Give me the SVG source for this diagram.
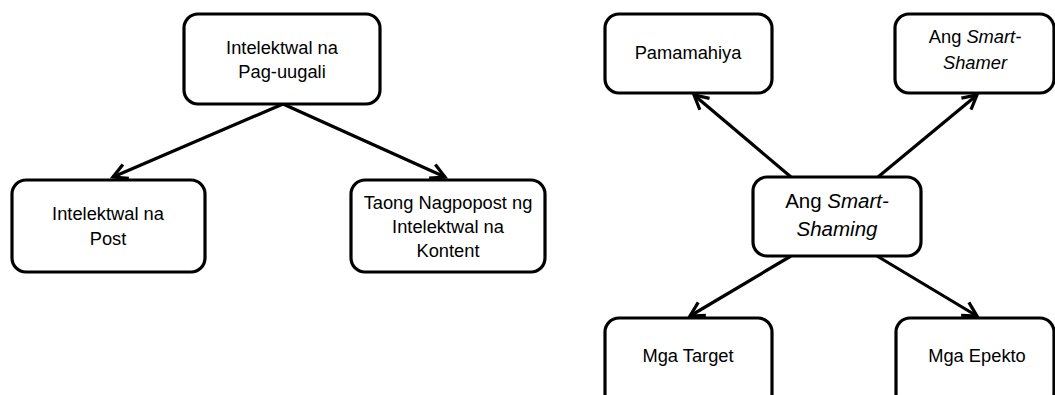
<svg xmlns="http://www.w3.org/2000/svg" width="1055" height="395" viewBox="0 0 1055 395">
<style>
.box{fill:#fff;stroke:#000;stroke-width:3.2}
.t{font-family:"Liberation Sans",Arial,sans-serif;font-size:18.3px;fill:#000;text-anchor:middle}
.big{font-size:20.5px}
.c{stroke:#000;stroke-width:3.2;fill:none}
</style>
<defs>
<marker id="ah" markerUnits="userSpaceOnUse" markerWidth="30" markerHeight="30" viewBox="-20 -15 30 30" refX="0" refY="0" orient="auto">
<path d="M-14,-7.5 L0,0 L-14,7.5" fill="none" stroke="#000" stroke-width="3.2" stroke-linejoin="miter"/>
</marker>
</defs>
<rect width="1055" height="395" fill="#fff"/>
<g id="connectors">
<line class="c" x1="283" y1="104" x2="113" y2="177" marker-end="url(#ah)"/>
<line class="c" x1="283" y1="104" x2="445" y2="177" marker-end="url(#ah)"/>
<line class="c" x1="791" y1="177" x2="694" y2="95" marker-end="url(#ah)"/>
<line class="c" x1="878" y1="177" x2="977" y2="95" marker-end="url(#ah)"/>
<line class="c" x1="791" y1="256" x2="690" y2="316" marker-end="url(#ah)"/>
<line class="c" x1="877" y1="256" x2="977" y2="316" marker-end="url(#ah)"/>
</g>
<g id="n1">
<rect class="box" x="184" y="14" width="196" height="90" rx="14"/>
<text class="t" x="282" y="54">Intelektwal na</text>
<text class="t" x="282" y="78">Pag-uugali</text>
</g>
<g id="n2">
<rect class="box" x="12" y="180" width="193" height="92" rx="14"/>
<text class="t" x="108" y="220">Intelektwal na</text>
<text class="t" x="108" y="245">Post</text>
</g>
<g id="n3">
<rect class="box" x="351" y="180" width="194" height="92" rx="14"/>
<text class="t" x="448" y="209">Taong Nagpopost ng</text>
<text class="t" x="448" y="233">Intelektwal na</text>
<text class="t" x="448" y="257">Kontent</text>
</g>
<g id="n4">
<rect class="box" x="605" y="14" width="167" height="79" rx="14"/>
<text class="t" x="688" y="59">Pamamahiya</text>
</g>
<g id="n5">
<rect class="box" x="895" y="14" width="159" height="79" rx="14"/>
<text class="t" x="975" y="43">Ang <tspan font-style="italic">Smart-</tspan></text>
<text class="t" x="975" y="69" font-style="italic">Shamer</text>
</g>
<g id="n6">
<rect class="box" x="753" y="177" width="168" height="79" rx="14"/>
<text class="t big" x="837" y="208">Ang <tspan font-style="italic">Smart-</tspan></text>
<text class="t big" x="837" y="236" font-style="italic">Shaming</text>
</g>
<g id="n7">
<rect class="box" x="605" y="318" width="167" height="90" rx="14"/>
<text class="t" x="688" y="362">Mga Target</text>
</g>
<g id="n8">
<rect class="box" x="896" y="318" width="158" height="90" rx="14"/>
<text class="t" x="977" y="362">Mga Epekto</text>
</g>
</svg>
